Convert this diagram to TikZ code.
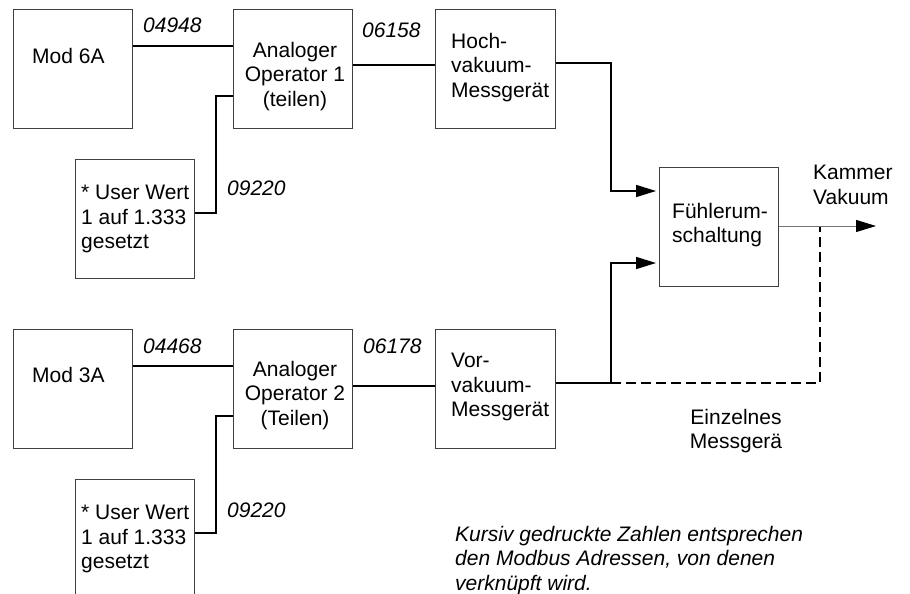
\documentclass[tikz,border=0pt]{standalone}
\usepackage{fontspec}
\setmainfont{Liberation Sans}
\usetikzlibrary{arrows.meta}
\begin{document}
\begin{tikzpicture}[x=1pt,y=-1pt,
  box/.style={draw=black!75,line width=1.2pt,rectangle,inner sep=0pt,anchor=north west,minimum width=119pt,minimum height=119pt},
  txt/.style={inner sep=0pt,font=\fontsize{21}{24.5}\selectfont},
  lbl/.style={inner sep=0pt,anchor=base west,font=\fontsize{21}{24.5}\selectfont\itshape},
  conn/.style={line width=1.6pt,black},
  arr/.style={-{Triangle[length=20pt,width=12pt]},shorten >=3pt},
  dconn/.style={line width=1.6pt,black,dash pattern=on 10pt off 5pt}]
\useasboundingbox (0,0) rectangle (910,594);
% boxes
\node[box] (mod6) at (13,9) {};
\node[box] (op1) at (233,9) {};
\node[box,minimum width=120pt] (hoch) at (435,9) {};
\node[box] (user1) at (75,159) {};
\node[box] (mod3) at (13,329) {};
\node[box] (op2) at (233,329) {};
\node[box,minimum width=120pt] (vor) at (435,329) {};
\node[box,minimum height=125pt] (user2) at (75,479) {};
\node[box] (fuehl) at (659,167) {};
% texts
\node[txt,anchor=north west] (tmod6) at (32,48) {Mod 6A};
\node[txt,anchor=north,align=center] (top1) at (295,42) {Analoger\\Operator 1\\(teilen)};
\node[txt,anchor=north west,align=left] (thoch) at (451,33) {Hoch-\\vakuum-\\Messgerät};
\node[txt,anchor=north west,align=left] (tuser1) at (81,185) {* User Wert\\1 auf 1.333\\gesetzt};
\node[txt,anchor=north west] (tmod3) at (32,367) {Mod 3A};
\node[txt,anchor=north,align=center] (top2) at (295,361) {Analoger\\Operator 2\\(Teilen)};
\node[txt,anchor=north west,align=left] (tvor) at (451,353) {Vor-\\vakuum-\\Messgerät};
\node[txt,anchor=north west,align=left] (tuser2) at (81,505) {* User Wert\\1 auf 1.333\\gesetzt};
\node[txt,anchor=north west,align=left] (tfuehl) at (672,203) {Fühlerum-\\schaltung};
\node[txt,anchor=north west,align=left] (tkammer) at (813,165) {Kammer\\Vakuum};
\node[txt,anchor=north,align=center] (teinz) at (736,409) {Einzelnes\\Messgerä};
\node[txt,anchor=north west,align=left,font=\fontsize{21}{24.5}\selectfont\itshape] (note) at (455,526) {Kursiv gedruckte Zahlen entsprechen\\den Modbus Adressen, von denen\\verknüpft wird.};
% address labels
\node[lbl] (a1) at (143,33) {04948};
\node[lbl] (a2) at (362,38) {06158};
\node[lbl] (a3) at (227,195) {09220};
\node[lbl] (a4) at (143,353) {04468};
\node[lbl] (a5) at (363,353) {06178};
\node[lbl] (a6) at (227,517) {09220};
% junction coordinates
\coordinate (c1) at (611,63);
\coordinate (j2) at (611,383);
\coordinate (j3) at (820,383);
\coordinate (j4) at (820,226);
\coordinate (out) at (876,226);
% connectors
\draw[conn] ([yshift=-37pt]mod6.north east) -- ([yshift=-37pt]op1.north west);
\draw[conn] ([yshift=-56pt]op1.north east) -- ([yshift=-56pt]hoch.north west);
\draw[conn] ([yshift=-54pt]user1.north east) -- ++(21,0) |- ([yshift=-87pt]op1.north west);
\draw[conn,arr] ([yshift=-54pt]hoch.north east) -- (c1) |- ([yshift=-24pt]fuehl.north west);
\draw[conn] ([yshift=-37pt]mod3.north east) -- ([yshift=-37pt]op2.north west);
\draw[conn] ([yshift=-57pt]op2.north east) -- ([yshift=-57pt]vor.north west);
\draw[conn] ([yshift=-54pt]user2.north east) -- ++(21,0) |- ([yshift=-87pt]op2.north west);
\draw[conn] ([yshift=-54pt]vor.north east) -- (j2);
\draw[conn,arr] (j2) |- ([yshift=-96pt]fuehl.north west);
\draw[dconn] (j2) -- (j3) -- (j4);
\draw[line width=1pt,black!55,-{Triangle[length=20pt,width=12pt,color=black]}] ([yshift=-59pt]fuehl.north east) -- (out);
\end{tikzpicture}
\end{document}
